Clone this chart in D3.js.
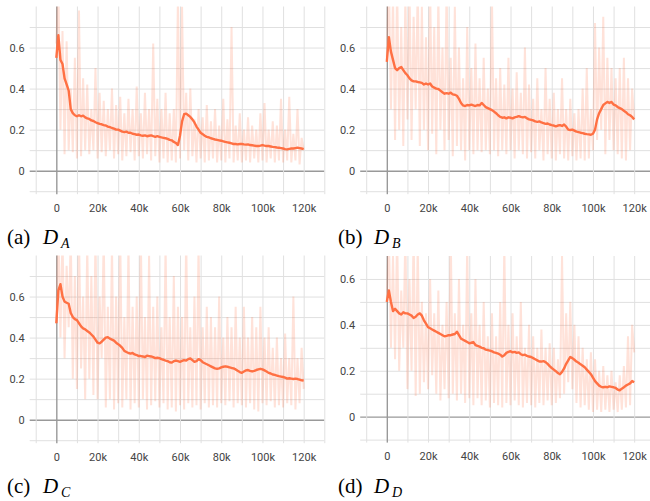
<!DOCTYPE html>
<html>
<head>
<meta charset="utf-8">
<script src="https://cdn.jsdelivr.net/npm/d3@7"></script>
<style>
  html, body { margin: 0; padding: 0; background: #fff; }
  svg { display: block; }
  .tick text { font-family: Roboto, 'Liberation Sans', sans-serif; font-size: 11px; fill: #444; }
  .caption { font-family: 'Liberation Serif', 'Times New Roman', serif; font-size: 21px; fill: #000; }
</style>
</head>
<body>
<svg width="650" height="501"></svg>
<script>
// training steps, one point every 1k
const steps = d3.range(0, 120001, 1000);

const xGrid = [-10000, 0, 10000, 20000, 30000, 40000, 50000, 60000, 70000, 80000, 90000, 100000, 110000, 120000, 130000];
const xLabels = [0, 20000, 40000, 60000, 80000, 100000, 120000];
const yGrid = [-0.1, 0, 0.1, 0.2, 0.3, 0.4, 0.5, 0.6, 0.7];
const yLabels = [0, 0.2, 0.4, 0.6];

const captionLetters = ['(a)', '(b)', '(c)', '(d)'];
const captionSubs = ['A', 'B', 'C', 'D'];

// raw (unsmoothed) loss
const rawA = [
  0.62, 0.9, 0.2, 0.68, 0.08, 0.63, 0.1, 0.4, 0.09, 0.55,
  0.06, 0.78, 0.07, 0.45, 0.1, 0.42, 0.08, 0.3, 0.1, 0.5,
  0.06, 0.38, 0.09, 0.34, 0.07, 0.3, 0.1, 0.4, 0.06, 0.32,
  0.08, 0.36, 0.05, 0.28, 0.07, 0.35, 0.09, 0.3, 0.05, 0.41,
  0.07, 0.28, 0.06, 0.38, 0.08, 0.3, 0.05, 0.62, 0.07, 0.35,
  0.04, 0.3, 0.06, 0.38, 0.04, 0.28, 0.05, 0.3, 0.04, 0.85,
  0.06, 0.8, 0.1, 0.38, 0.05, 0.4, 0.07, 0.25, 0.04, 0.3,
  0.06, 0.26, 0.04, 0.32, 0.05, 0.24, 0.06, 0.3, 0.04, 0.22,
  0.05, 0.35, 0.04, 0.25, 0.06, 0.7, 0.04, 0.22, 0.05, 0.28,
  0.04, 0.2, 0.05, 0.26, 0.04, 0.22, 0.06, 0.2, 0.04, 0.28,
  0.05, 0.33, 0.04, 0.2, 0.06, 0.24, 0.04, 0.22, 0.05, 0.35,
  0.04, 0.2, 0.05, 0.36, 0.04, 0.18, 0.05, 0.3, 0.03, 0.16,
  0.1
];
const rawB = [
  0.55, 0.95, 0.3, 0.85, 0.15, 0.9, 0.2, 0.7, 0.12, 0.85,
  0.25, 0.9, 0.15, 0.75, 0.3, 0.9, 0.12, 0.8, 0.2, 0.65,
  0.1, 0.9, 0.18, 0.7, 0.08, 0.85, 0.2, 0.6, 0.1, 0.9,
  0.15, 0.55, 0.07, 0.8, 0.12, 0.6, 0.1, 0.45, 0.05, 0.7,
  0.1, 0.5, 0.08, 0.62, 0.1, 0.45, 0.09, 0.55, 0.1, 0.4,
  0.08, 0.85, 0.1, 0.45, 0.07, 0.5, 0.1, 0.42, 0.08, 0.55,
  0.1, 0.4, 0.06, 0.48, 0.1, 0.38, 0.08, 0.6, 0.06, 0.42,
  0.09, 0.35, 0.06, 0.45, 0.1, 0.3, 0.05, 0.5, 0.08, 0.35,
  0.06, 0.38, 0.05, 0.3, 0.08, 0.45, 0.06, 0.3, 0.05, 0.35,
  0.07, 0.28, 0.05, 0.3, 0.06, 0.4, 0.05, 0.5, 0.06, 0.3,
  0.1, 0.72, 0.15, 0.6, 0.2, 0.75, 0.08, 0.55, 0.15, 0.5,
  0.1, 0.45, 0.08, 0.5, 0.06, 0.55, 0.05, 0.45, 0.1, 0.4,
  0.25
];
const rawC = [
  0.47, 0.95, 0.4, 0.9, 0.3, 0.75, 0.45, 0.9, 0.2, 0.7,
  0.15, 0.9, 0.25, 0.6, 0.1, 0.85, 0.2, 0.7, 0.12, 0.9,
  0.1, 0.6, 0.3, 0.9, 0.06, 0.55, 0.1, 0.85, 0.05, 0.6,
  0.08, 0.9, 0.06, 0.5, 0.1, 0.85, 0.05, 0.55, 0.08, 0.6,
  0.06, 0.9, 0.1, 0.5, 0.05, 0.8, 0.07, 0.55, 0.09, 0.6,
  0.06, 0.45, 0.08, 0.85, 0.05, 0.5, 0.06, 0.7, 0.04, 0.55,
  0.07, 0.5, 0.05, 0.9, 0.08, 0.45, 0.06, 0.6, 0.07, 0.85,
  0.05, 0.45, 0.08, 0.55, 0.06, 0.5, 0.07, 0.45, 0.06, 0.6,
  0.08, 0.4, 0.07, 0.5, 0.09, 0.45, 0.06, 0.55, 0.08, 0.4,
  0.07, 0.55, 0.06, 0.4, 0.08, 0.5, 0.05, 0.45, 0.04, 0.55,
  0.08, 0.4, 0.07, 0.45, 0.09, 0.35, 0.06, 0.4, 0.07, 0.3,
  0.06, 0.42, 0.08, 0.3, 0.07, 0.6, 0.05, 0.3, 0.08, 0.35,
  0.15
];
const rawD = [
  0.5, 0.8, 0.3, 0.7, 0.25, 0.8, 0.2, 0.55, 0.3, 0.8,
  0.12, 0.6, 0.2, 0.8, 0.09, 0.75, 0.1, 0.5, 0.15, 0.45,
  0.12, 0.6, 0.18, 0.45, 0.1, 0.55, 0.07, 0.4, 0.12, 0.5,
  0.08, 0.8, 0.1, 0.45, 0.07, 0.6, 0.1, 0.4, 0.06, 0.75,
  0.08, 0.45, 0.05, 0.6, 0.08, 0.4, 0.05, 0.5, 0.07, 0.35,
  0.04, 0.45, 0.06, 0.35, 0.05, 0.5, 0.04, 0.75, 0.06, 0.4,
  0.05, 0.45, 0.07, 0.35, 0.05, 0.5, 0.04, 0.3, 0.06, 0.4,
  0.05, 0.35, 0.04, 0.3, 0.06, 0.38, 0.05, 0.3, 0.07, 0.32,
  0.05, 0.3, 0.06, 0.25, 0.08, 0.7, 0.1, 0.45, 0.15, 0.5,
  0.12, 0.4, 0.06, 0.35, 0.04, 0.3, 0.05, 0.25, 0.03, 0.28,
  0.02, 0.25, 0.03, 0.2, 0.02, 0.22, 0.03, 0.18, 0.02, 0.2,
  0.03, 0.15, 0.02, 0.18, 0.03, 0.22, 0.04, 0.35, 0.05, 0.4,
  0.28
];

// smoothed loss
const smoothA = [
  0.55, 0.66, 0.54, 0.52, 0.45, 0.42, 0.39, 0.3, 0.28, 0.27,
  0.265, 0.27, 0.265, 0.268, 0.26, 0.255, 0.252, 0.245, 0.242, 0.236,
  0.232, 0.228, 0.226, 0.222, 0.22, 0.215, 0.212, 0.208, 0.205, 0.2,
  0.2, 0.195, 0.19, 0.188, 0.19, 0.185, 0.185, 0.18, 0.178, 0.175,
  0.176, 0.172, 0.17, 0.172, 0.168, 0.17, 0.172, 0.168, 0.165, 0.168,
  0.165, 0.162, 0.16, 0.158, 0.155, 0.15, 0.148, 0.14, 0.135, 0.125,
  0.17, 0.24, 0.275, 0.278, 0.27, 0.262, 0.25, 0.235, 0.215, 0.2,
  0.185, 0.178, 0.17, 0.165, 0.162, 0.158, 0.155, 0.152, 0.15, 0.148,
  0.146, 0.143, 0.14, 0.138, 0.136, 0.133, 0.13, 0.13, 0.128, 0.13,
  0.13, 0.128, 0.127, 0.128, 0.125, 0.124, 0.122, 0.12, 0.12, 0.122,
  0.125, 0.122, 0.12, 0.12, 0.118, 0.116, 0.115, 0.113, 0.112, 0.11,
  0.108, 0.105, 0.104, 0.106, 0.108, 0.108, 0.11, 0.112, 0.11, 0.108,
  0.105
];
const smoothB = [
  0.53, 0.65, 0.58, 0.54, 0.5, 0.49, 0.5, 0.505, 0.49, 0.475,
  0.465, 0.45, 0.44, 0.435, 0.435, 0.432, 0.43, 0.428, 0.42, 0.425,
  0.42, 0.425, 0.41, 0.405, 0.4, 0.398, 0.39, 0.382, 0.375, 0.378,
  0.375, 0.38, 0.372, 0.37, 0.365, 0.35, 0.33, 0.318, 0.315, 0.32,
  0.318, 0.322, 0.318, 0.315, 0.32, 0.318, 0.33, 0.32, 0.31, 0.305,
  0.3, 0.295, 0.288, 0.28, 0.27, 0.262, 0.258, 0.26, 0.255, 0.26,
  0.258, 0.255, 0.26, 0.262, 0.266, 0.262, 0.26, 0.262, 0.255, 0.25,
  0.248, 0.245, 0.24, 0.238, 0.24, 0.235, 0.232, 0.228, 0.23, 0.225,
  0.222, 0.22, 0.216, 0.22, 0.222, 0.218, 0.225, 0.215, 0.2, 0.198,
  0.2, 0.195, 0.19, 0.188, 0.185, 0.183, 0.18, 0.178, 0.177, 0.175,
  0.18, 0.2, 0.25, 0.28, 0.3, 0.32, 0.328, 0.335, 0.33, 0.335,
  0.322, 0.318, 0.31, 0.305, 0.3, 0.292, 0.285, 0.275, 0.27, 0.262,
  0.25
];
const smoothC = [
  0.47, 0.63, 0.66, 0.6, 0.575, 0.57, 0.565, 0.52, 0.5, 0.49,
  0.485, 0.47, 0.455, 0.445, 0.44, 0.432, 0.425, 0.415, 0.405, 0.39,
  0.375, 0.372, 0.38, 0.39, 0.4, 0.402, 0.395, 0.39, 0.385, 0.375,
  0.368, 0.36, 0.35, 0.335, 0.33, 0.325, 0.322, 0.325, 0.318, 0.315,
  0.31, 0.31, 0.308, 0.305, 0.312, 0.31, 0.308, 0.305, 0.3, 0.302,
  0.3, 0.295, 0.292, 0.288, 0.285, 0.28, 0.278, 0.285, 0.288, 0.285,
  0.282, 0.286, 0.29, 0.288, 0.295, 0.298, 0.29, 0.282, 0.285, 0.295,
  0.29, 0.28, 0.275, 0.27, 0.265, 0.26, 0.255, 0.25, 0.248, 0.25,
  0.255, 0.258, 0.26, 0.258, 0.255, 0.252, 0.25, 0.245, 0.238, 0.232,
  0.228, 0.235, 0.24, 0.242, 0.238, 0.235, 0.238, 0.242, 0.245, 0.248,
  0.245, 0.24, 0.235, 0.228, 0.225, 0.22, 0.218, 0.215, 0.212, 0.21,
  0.208, 0.205, 0.2, 0.202, 0.2, 0.198, 0.2, 0.198, 0.195, 0.192,
  0.19
];
const smoothD = [
  0.5, 0.55, 0.5, 0.46, 0.47, 0.46, 0.45, 0.445, 0.455, 0.45,
  0.45, 0.445, 0.44, 0.43, 0.435, 0.445, 0.45, 0.44, 0.42, 0.405,
  0.39, 0.385, 0.38, 0.375, 0.37, 0.365, 0.36, 0.355, 0.35, 0.352,
  0.355, 0.355, 0.358, 0.36, 0.37, 0.355, 0.34, 0.335, 0.33, 0.325,
  0.32, 0.322, 0.325, 0.312, 0.308, 0.305, 0.3, 0.298, 0.292, 0.29,
  0.288, 0.285, 0.28, 0.278, 0.275, 0.27, 0.262, 0.268, 0.278, 0.282,
  0.285, 0.28, 0.282, 0.278, 0.28, 0.272, 0.268, 0.27, 0.265, 0.262,
  0.26, 0.255, 0.25, 0.245, 0.24, 0.24, 0.242, 0.238, 0.23, 0.22,
  0.212, 0.205, 0.198, 0.19, 0.185, 0.195, 0.21, 0.23, 0.245, 0.26,
  0.255, 0.248, 0.24, 0.235, 0.228, 0.222, 0.215, 0.205, 0.195, 0.185,
  0.17, 0.155, 0.145, 0.135, 0.13, 0.128, 0.13, 0.128, 0.132, 0.13,
  0.128, 0.125, 0.118, 0.115, 0.122, 0.128, 0.135, 0.14, 0.145, 0.155,
  0.15
];

const panels = [
  { raw: rawA, smooth: smoothA, left: 35.7, top: 6.5, bottom: 191.2, yMax: 0.8, cx: 7, cy: 244 },
  { raw: rawB, smooth: smoothB, left: 366.2, top: 6.5, bottom: 191.2, yMax: 0.8, cx: 338, cy: 244 },
  { raw: rawC, smooth: smoothC, left: 35.7, top: 255.5, bottom: 440.2, yMax: 0.8, cx: 7, cy: 493 },
  { raw: rawD, smooth: smoothD, left: 366.2, top: 256, bottom: 439.6, yMax: 0.7, cx: 338, cy: 493 }
];

const plotW = 288.6;
const lineColor = '#ff7043';
const svg = d3.select('svg');

const fmtX = d => (d === 0 ? '0' : `${d / 1000}k`);
const fmtY = d => (d === 0 ? '0' : d3.format('.1f')(d));

panels.forEach((p, i) => {
  const x = d3.scaleLinear().domain([-10000, 130000]).range([p.left, p.left + plotW]);
  const y = d3.scaleLinear().domain([-0.1, p.yMax]).range([p.bottom, p.top]);
  const g = svg.append('g');

  // horizontal grid + y labels
  g.append('g')
    .attr('transform', `translate(${p.left - 6},0)`)
    .call(d3.axisLeft(y)
      .tickValues(yGrid.filter(v => v < p.yMax))
      .tickSize(-(plotW + 6))
      .tickPadding(5)
      .tickFormat(d => (yLabels.includes(d) ? fmtY(d) : '')))
    .call(a => a.select('.domain').remove())
    .selectAll('.tick line')
    .attr('stroke', d => (d === 0 ? '#999' : '#e0e0e0'))
    .attr('stroke-width', d => (d === 0 ? 1.4 : 1));

  // vertical grid + x labels
  g.append('g')
    .attr('transform', `translate(0,${p.bottom + 3})`)
    .call(d3.axisBottom(x)
      .tickValues(xGrid)
      .tickSize(-(p.bottom + 3 - p.top))
      .tickPadding(10)
      .tickFormat(d => (xLabels.includes(d) ? fmtX(d) : '')))
    .call(a => a.select('.domain').remove())
    .selectAll('.tick line')
    .attr('stroke', d => (d === 0 ? '#999' : '#e0e0e0'))
    .attr('stroke-width', d => (d === 0 ? 1.4 : 1));

  const clipId = `clip-${i}`;
  g.append('clipPath').attr('id', clipId)
    .append('rect')
    .attr('x', p.left).attr('y', p.top)
    .attr('width', plotW).attr('height', p.bottom - p.top);

  const line = d3.line()
    .x((d, k) => x(steps[k]))
    .y(d => y(d));

  g.append('path')
    .datum(p.raw)
    .attr('clip-path', `url(#${clipId})`)
    .attr('fill', 'none')
    .attr('stroke', lineColor)
    .attr('stroke-opacity', 0.2)
    .attr('stroke-width', 2)
    .attr('d', line);

  g.append('path')
    .datum(p.smooth)
    .attr('clip-path', `url(#${clipId})`)
    .attr('fill', 'none')
    .attr('stroke', lineColor)
    .attr('stroke-width', 2.4)
    .attr('stroke-linejoin', 'round')
    .attr('d', line);

  // caption below the panel
  const cap = svg.append('text')
    .attr('class', 'caption')
    .attr('x', p.cx)
    .attr('y', p.cy);
  cap.append('tspan').text(captionLetters[i]);
  cap.append('tspan').attr('x', p.cx + 36).attr('font-style', 'italic').text('D');
  cap.append('tspan').attr('x', p.cx + 54).attr('dy', 4).attr('font-size', 14).attr('font-style', 'italic').text(captionSubs[i]);
});
</script>
</body>
</html>
